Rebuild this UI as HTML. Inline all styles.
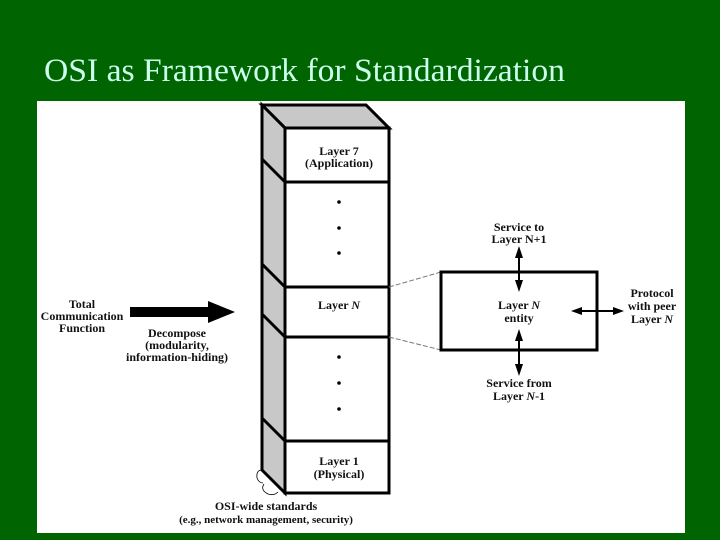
<!DOCTYPE html>
<html><head><style>
html,body{margin:0;padding:0;background:#006400;width:720px;height:540px;overflow:hidden}
</style></head><body>
<svg width="720" height="540" xmlns="http://www.w3.org/2000/svg">
<rect width="720" height="540" fill="#006400"/>
<text x="44" y="81" font-family="Liberation Serif, serif" font-size="33" fill="#ccffee" textLength="521" lengthAdjust="spacingAndGlyphs">OSI as Framework for Standardization</text>
<rect x="37" y="101" width="648" height="432" fill="#fff"/>
<g font-family="Liberation Serif, serif" font-weight="bold" font-size="12" fill="#111" text-anchor="middle">
<polygon points="262,105 366,105 389,128 285,128" fill="#c8c8c8" stroke="#000" stroke-width="3"/>
<polygon points="262,105 285,128 285,493 262,470" fill="#c8c8c8" stroke="#000" stroke-width="3"/>
<line x1="262" y1="159" x2="285" y2="182" stroke="#000" stroke-width="3"/>
<line x1="262" y1="264" x2="285" y2="287" stroke="#000" stroke-width="3"/>
<line x1="262" y1="314" x2="285" y2="337" stroke="#000" stroke-width="3"/>
<line x1="262" y1="418" x2="285" y2="441" stroke="#000" stroke-width="3"/>
<rect x="285" y="128" width="104" height="365" fill="#fff" stroke="#000" stroke-width="3"/>
<line x1="285" y1="182" x2="389" y2="182" stroke="#000" stroke-width="3"/>
<line x1="285" y1="287" x2="389" y2="287" stroke="#000" stroke-width="3"/>
<line x1="285" y1="337" x2="389" y2="337" stroke="#000" stroke-width="3"/>
<line x1="285" y1="441" x2="389" y2="441" stroke="#000" stroke-width="3"/>
<text x="339" y="155">Layer 7</text><text x="339" y="167">(Application)</text>
<circle cx="339" cy="202" r="1.8" fill="#000"/><circle cx="339" cy="228" r="1.8" fill="#000"/><circle cx="339" cy="253" r="1.8" fill="#000"/>
<text x="339" y="309">Layer <tspan font-style="italic">N</tspan></text>
<circle cx="339" cy="357" r="1.8" fill="#000"/><circle cx="339" cy="383" r="1.8" fill="#000"/><circle cx="339" cy="409" r="1.8" fill="#000"/>
<text x="339" y="465">Layer 1</text><text x="339" y="478">(Physical)</text>
<path d="M262,470 q-6,0 -5,8 q2,5 6,5 M264,484 q-4,6 4,10 q6,2 10,-2" fill="none" stroke="#000" stroke-width="0.8"/>
<text x="266" y="510">OSI-wide standards</text>
<text x="266" y="523" font-size="11">(e.g., network management, security)</text>
<line x1="389" y1="287" x2="441" y2="272" stroke="#777" stroke-dasharray="5,2"/>
<line x1="389" y1="337" x2="441" y2="350" stroke="#777" stroke-dasharray="5,2"/>
<rect x="441" y="272" width="156" height="78" fill="none" stroke="#000" stroke-width="3"/>
<text x="519" y="231">Service to</text><text x="519" y="243">Layer N+1</text>
<line x1="519" y1="250" x2="519" y2="286" stroke="#000" stroke-width="2"/>
<polygon points="515,258 519,246 523,258" fill="#000"/><polygon points="515,280 519,292 523,280" fill="#000"/>
<text x="519" y="309">Layer <tspan font-style="italic">N</tspan></text><text x="519" y="322">entity</text>
<line x1="519" y1="334" x2="519" y2="370" stroke="#000" stroke-width="2"/>
<polygon points="515,341 519,329 523,341" fill="#000"/><polygon points="515,364 519,376 523,364" fill="#000"/>
<text x="519" y="387">Service from</text><text x="519" y="400">Layer <tspan font-style="italic">N</tspan>-1</text>
<line x1="575" y1="311" x2="620" y2="311" stroke="#000" stroke-width="2"/>
<polygon points="582,307 571,311 582,315" fill="#000"/><polygon points="613,307 624,311 613,315" fill="#000"/>
<text x="652" y="297">Protocol</text><text x="652" y="310">with peer</text><text x="652" y="323">Layer <tspan font-style="italic">N</tspan></text>
<text x="82" y="308">Total</text><text x="82" y="320">Communication</text><text x="82" y="332">Function</text>
<rect x="130" y="307" width="80" height="10" fill="#000"/>
<polygon points="208,301 235,312 208,323" fill="#000"/>
<text x="177" y="337">Decompose</text><text x="177" y="349">(modularity,</text><text x="177" y="361">information-hiding)</text>
</g>
</svg>
</body></html>
